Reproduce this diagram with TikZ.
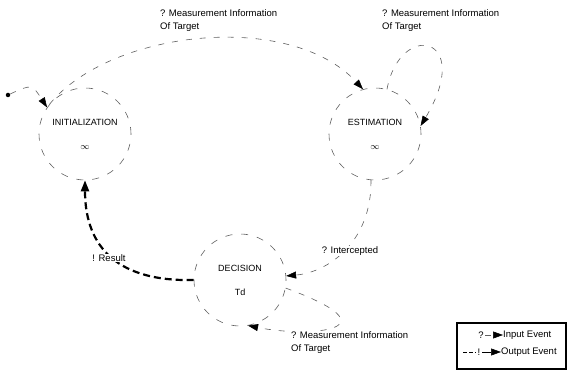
\documentclass[tikz,border=0pt]{standalone}
\usepackage{fontspec}
\setmainfont{Liberation Sans}
\usetikzlibrary{positioning,arrows.meta}
\definecolor{faint}{RGB}{95,95,95}

\begin{document}
\begin{tikzpicture}[x=1pt, y=-1pt,
  state/.style={circle, draw=faint, line width=0.6pt, dash pattern=on 7pt off 9pt,
    minimum size=92pt, inner sep=0pt, align=center, font=\fontsize{9}{11}\selectfont},
  inev/.style={draw=faint, line width=0.6pt, dash pattern=on 6pt off 8pt,
    -{Triangle[length=10pt, width=7pt, color=black]}},
  outev/.style={draw=black, line width=2.2pt, dash pattern=on 7pt off 4pt,
    -{Triangle[length=11pt, width=8pt]}},
  lbl/.style={font=\fontsize{9.5}{13}\selectfont, align=left, inner sep=0pt}]
  \useasboundingbox (0,0) rectangle (568,371);

  % states
  \node[state] (init) at (85,134) {INITIALIZATION\\[13pt]$\infty$};
  \node[state] (est) at (375,134) {ESTIMATION\\[13pt]$\infty$};
  \node[state] (dec) at (240,280) {DECISION\\[13pt]Td};
  \node[circle, fill=black, inner sep=0pt, minimum size=4.5pt] (start) at (8,95) {};

  % transitions
  \draw[inev] (start) .. controls (32,84) .. (init.145);
  \draw[inev] (init.140) .. controls (110,30) and (290,10) .. (est.105);
  \draw[inev] (est.75) .. controls (400,20) and (475,35) .. (est.10);
  \draw[inev] (est.265) .. controls (372,240) and (330,272) .. (dec.5);
  \draw[inev] (dec.-10) .. controls (400,330) and (310,338) .. (dec.-80);
  \draw[outev] (dec.180) .. controls (110,282) and (85,240) .. (init.270);

  % event labels
  \node[lbl, anchor=north west] (meas1) at (160,9) {? Measurement Information\\Of Target};
  \node[lbl, anchor=north west] (meas2) at (382,9) {? Measurement Information\\Of Target};
  \node[lbl, anchor=north west, fill=white] (meas3) at (291,331) {? Measurement Information\\Of Target};
  \node[lbl, fill=white, inner sep=1pt] (icpt) at (350,251) {? Intercepted};
  \node[lbl, fill=white, inner sep=1pt] (rslt) at (109,258) {! Result};

  % legend
  \node[draw, line width=1.1pt, minimum width=109pt, minimum height=46pt] (legend) at (511.5,346) {};
  \node[lbl, inner sep=1.5pt] (qmark) at (481,335) {?};
  \node[lbl, anchor=west] (inlbl) at (503,335) {Input Event};
  \draw[inev] (qmark) -- (inlbl);
  \coordinate (dash0) at (463,352);
  \node[lbl, inner sep=1.5pt] (xmark) at (479,352) {!};
  \node[lbl, anchor=west] (outlbl) at (501,352) {Output Event};
  \draw[line width=0.9pt, dash pattern=on 4pt off 2pt] (dash0) -- (xmark);
  \draw[-{Triangle[length=10pt, width=7pt]}, line width=0.6pt] (xmark) -- (outlbl);
\end{tikzpicture}
\end{document}
